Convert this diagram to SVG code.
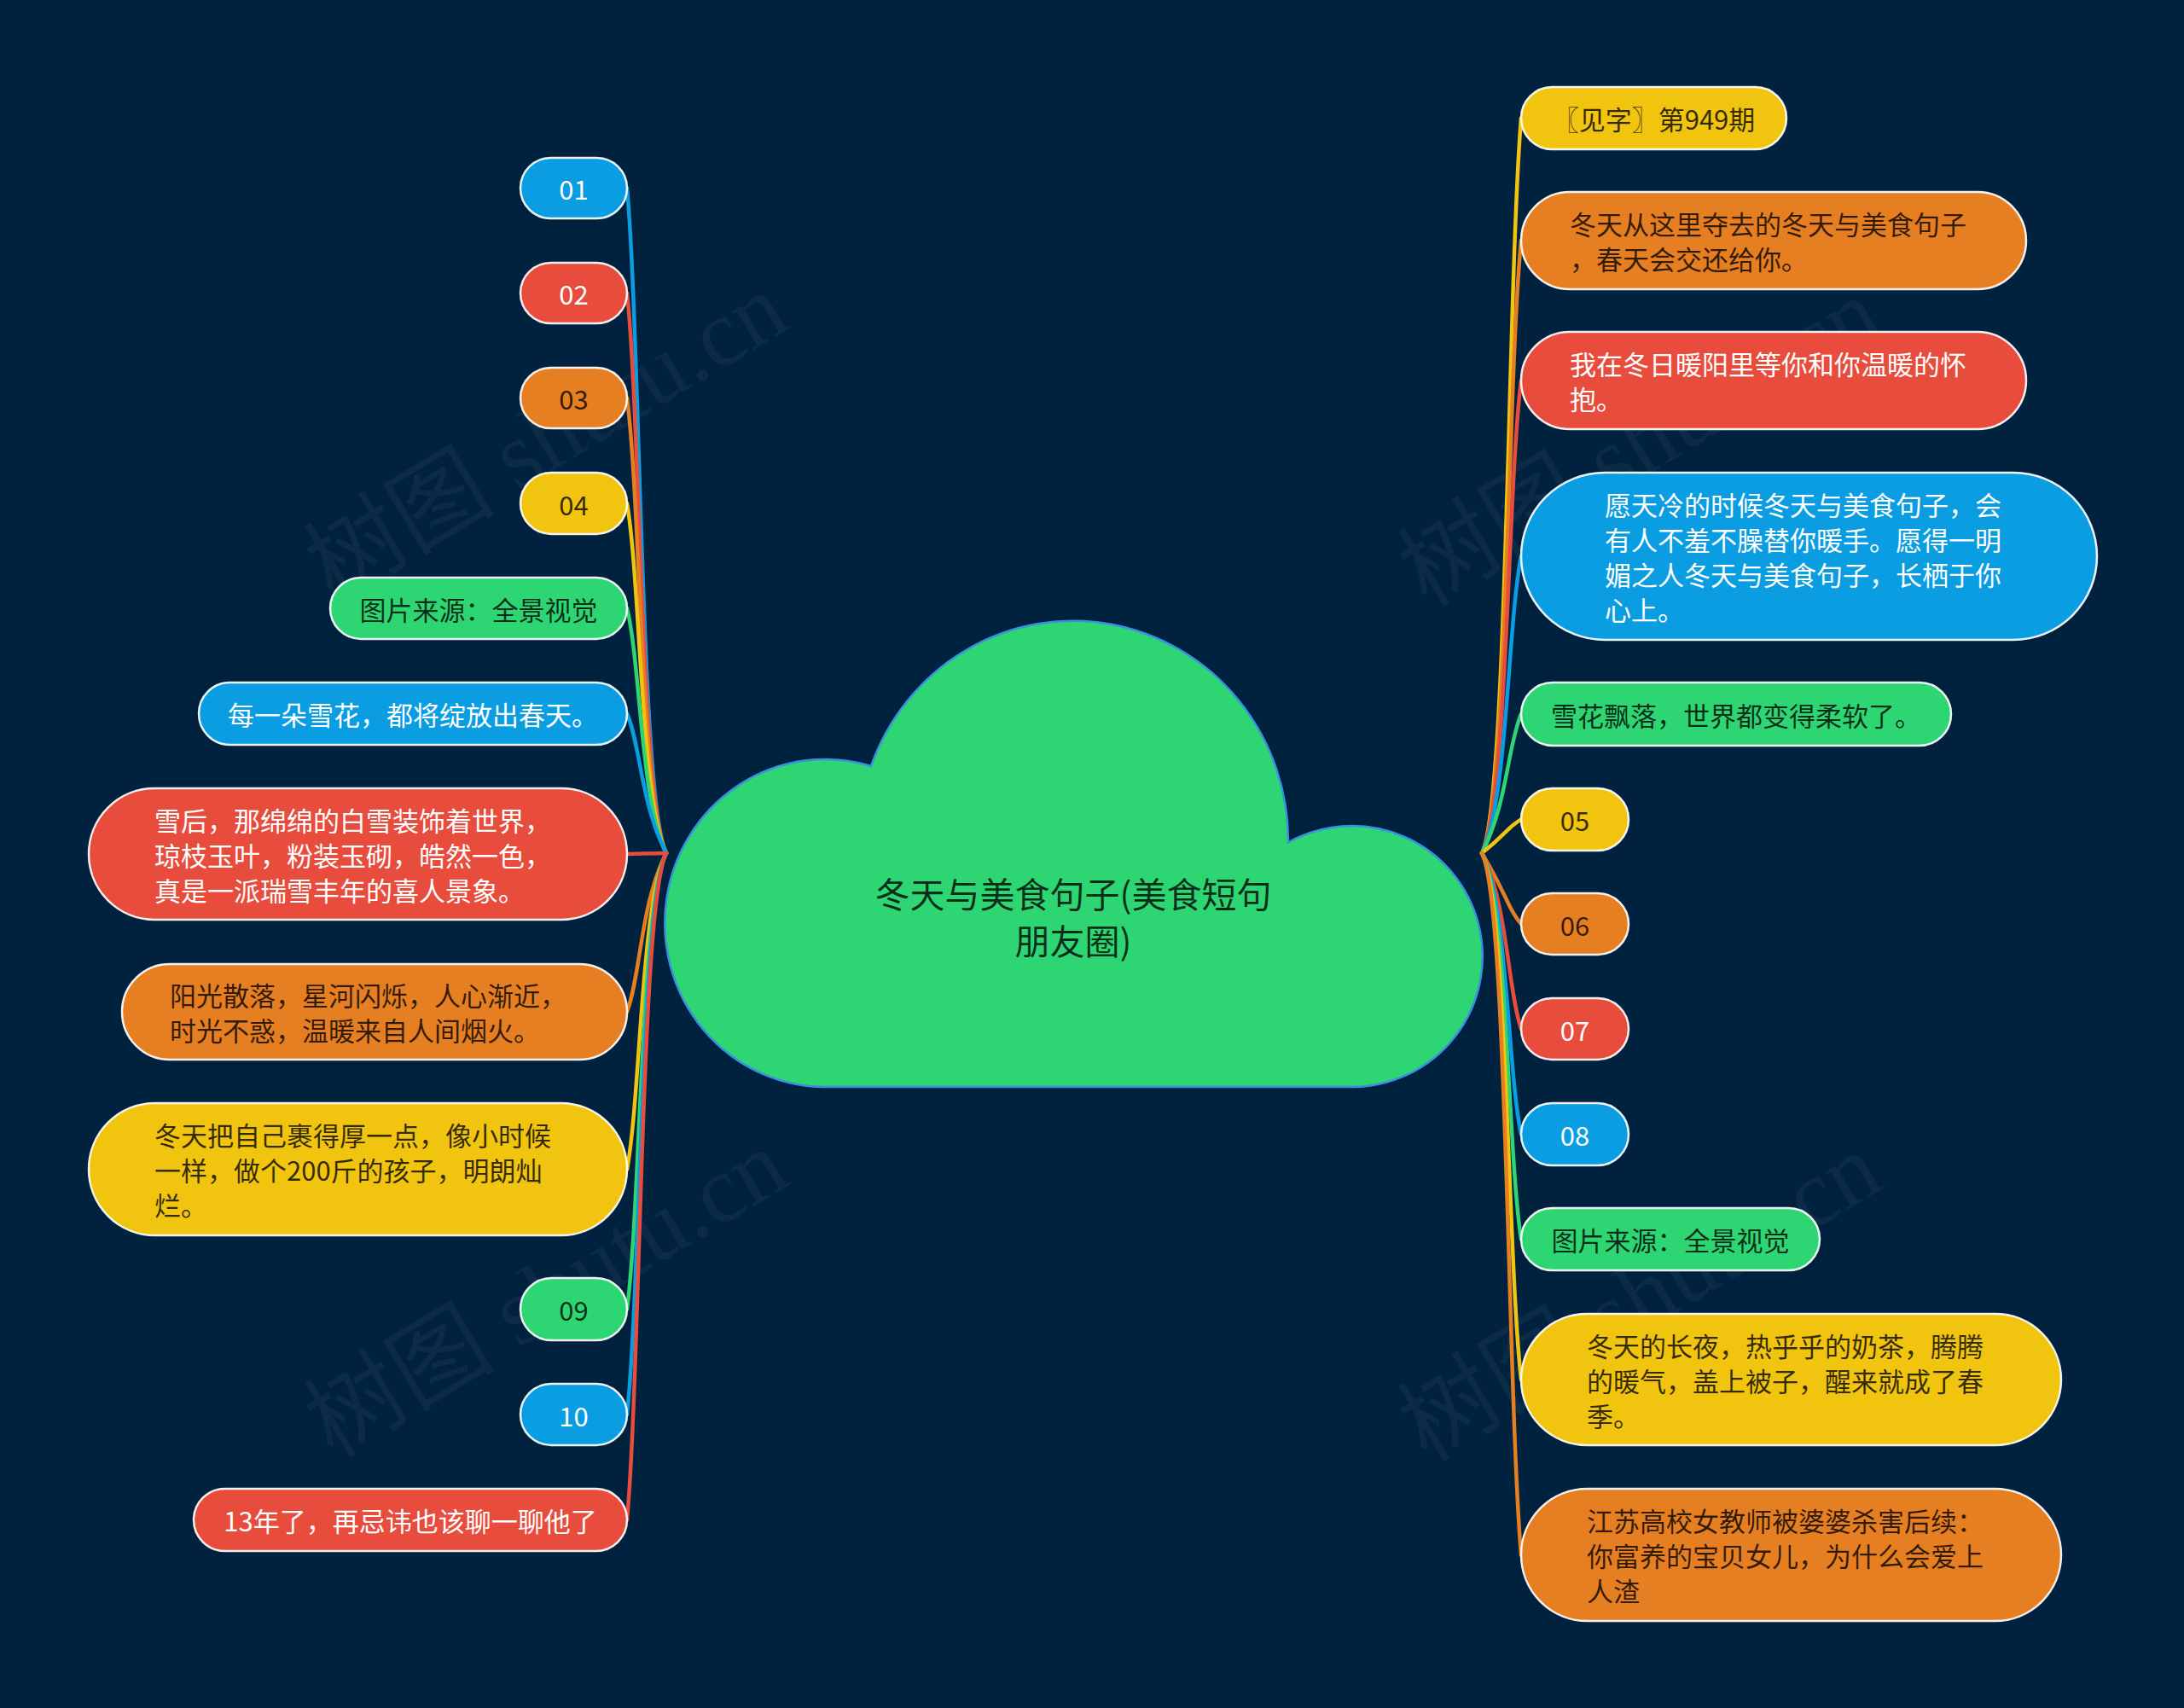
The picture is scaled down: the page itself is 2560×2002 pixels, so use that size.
<svg xmlns="http://www.w3.org/2000/svg" width="2560" height="2002" viewBox="0 0 2560 2002">
<style>
.n{stroke:#ffffff;stroke-width:2.5;stroke-opacity:0.92}
.t{font-family:"Noto Sans CJK SC","Microsoft YaHei",sans-serif;font-size:31px;dominant-baseline:central}
.c{text-anchor:middle}
.w{fill:#ffffff}
.d{fill:#000000;fill-opacity:0.78}
.blue{fill:#0a9de2}.red{fill:#e74c3c}.orange{fill:#e67e22}.yellow{fill:#f1c40f}.green{fill:#2ed573}
#links path{fill:none;stroke-width:4.5;stroke-linecap:round}
.sb{stroke:#0a9de2}.sr{stroke:#e74c3c}.so{stroke:#e67e22}.sy{stroke:#f1c40f}.sg{stroke:#2ed573}
.wm{font-family:"Liberation Serif","Noto Sans CJK SC",serif;font-size:112px;fill:#ffffff;fill-opacity:0.045;text-anchor:middle;dominant-baseline:central}
</style>
<rect width="2560" height="2002" fill="#01223e"/>

<g id="watermarks">
<text class="wm" transform="translate(640,512) rotate(-31)">树图 shutu.cn</text>
<text class="wm" transform="translate(1922,518) rotate(-31)">树图 shutu.cn</text>
<text class="wm" transform="translate(640,1516) rotate(-31)">树图 shutu.cn</text>
<text class="wm" transform="translate(1922,1520) rotate(-31)">树图 shutu.cn</text>
</g>

<g id="links">
<path class="sb" d="M781,1000 C751,942 751,400 735,220.5"/>
<path class="sr" d="M781,1000 C751,942 751,494.5 735,343.5"/>
<path class="so" d="M781,1000 C751,942 751,589 735,466.5"/>
<path class="sy" d="M781,1000 C751,942 751,684 735,590"/>
<path class="sg" d="M781,1000 C751,942 751,779 735,713"/>
<path class="sb" d="M781,1000 C751,942 751,874 735,836.5"/>
<path class="sr" d="M781,1000 L735,1001"/>
<path class="so" d="M781,1000 C751,1058 751,1143 735,1186"/>
<path class="sy" d="M781,1000 C751,1058 751,1285 735,1370.5"/>
<path class="sg" d="M781,1000 C751,1058 751,1412 735,1534.5"/>
<path class="sb" d="M781,1000 C751,1058 751,1507 735,1658"/>
<path class="sr" d="M781,1000 C751,1058 751,1602 735,1781.5"/>

<path class="sy" d="M1737,1000 C1767,942 1767,337 1783,138.5"/>
<path class="so" d="M1737,1000 C1767,942 1767,447 1783,282"/>
<path class="sr" d="M1737,1000 C1767,942 1767,573 1783,446"/>
<path class="sb" d="M1737,1000 C1767,942 1767,732 1783,652"/>
<path class="sg" d="M1737,1000 C1767,942 1767,874.5 1783,837"/>
<path class="sy" d="M1737,1000 C1767,976 1767,969.6 1783,960.5"/>
<path class="so" d="M1737,1000 C1767,1050 1767,1064 1783,1083"/>
<path class="sr" d="M1737,1000 C1767,1058 1767,1158.6 1783,1206"/>
<path class="sb" d="M1737,1000 C1767,1058 1767,1253.7 1783,1329.5"/>
<path class="sg" d="M1737,1000 C1767,1058 1767,1348.4 1783,1452.5"/>
<path class="sy" d="M1737,1000 C1767,1058 1767,1475 1783,1617"/>
<path class="so" d="M1737,1000 C1767,1058 1767,1633 1783,1822.5"/>
</g>

<g id="center">
<path d="M1021,898 A252,258 0 0 1 1510,987.5 A153,153 0 1 1 1585,1274 L967,1274 A188,192 0 1 1 1021,898 Z" fill="#2ed573" stroke="#3a8fe0" stroke-width="2.5"/>
<text class="t c d" x="1258" y="1046" style="font-size:41px">冬天与美食句子(美食短句</text>
<text class="t c d" x="1258" y="1101" style="font-size:41px">朋友圈)</text>
</g>

<g id="n-L1"><rect class="n blue" x="610" y="185" width="125" height="71" rx="35.5"/><text class="t c w" x="672.5" y="220.5">01</text></g>
<g id="n-L2"><rect class="n red" x="610" y="308" width="125" height="71" rx="35.5"/><text class="t c w" x="672.5" y="343.5">02</text></g>
<g id="n-L3"><rect class="n orange" x="610" y="431" width="125" height="71" rx="35.5"/><text class="t c d" x="672.5" y="466.5">03</text></g>
<g id="n-L4"><rect class="n yellow" x="610" y="554" width="125" height="72" rx="36"/><text class="t c d" x="672.5" y="590">04</text></g>
<g id="n-L5"><rect class="n green" x="387" y="677" width="348" height="72" rx="36"/><text class="t c d" x="561" y="713">图片来源：全景视觉</text></g>
<g id="n-L6"><rect class="n blue" x="233" y="800" width="502" height="73" rx="36.5"/><text class="t c w" x="484" y="836.5">每一朵雪花，都将绽放出春天。</text></g>
<g id="n-L7"><rect class="n red" x="104" y="924" width="631" height="154" rx="77"/>
<text class="t w" x="181" y="960">雪后，那绵绵的白雪装饰着世界，</text>
<text class="t w" x="181" y="1001">琼枝玉叶，粉装玉砌，皓然一色，</text>
<text class="t w" x="181" y="1042">真是一派瑞雪丰年的喜人景象。</text></g>
<g id="n-L8"><rect class="n orange" x="143" y="1130" width="592" height="112" rx="56"/>
<text class="t d" x="199" y="1165.5">阳光散落，星河闪烁，人心渐近，</text>
<text class="t d" x="199" y="1206.5">时光不惑，温暖来自人间烟火。</text></g>
<g id="n-L9"><rect class="n yellow" x="104" y="1293" width="631" height="155" rx="77.5"/>
<text class="t d" x="181" y="1329.5">冬天把自己裹得厚一点，像小时候</text>
<text class="t d" x="181" y="1370.5">一样，做个200斤的孩子，明朗灿</text>
<text class="t d" x="181" y="1411.5">烂。</text></g>
<g id="n-L10"><rect class="n green" x="610" y="1498" width="125" height="73" rx="36.5"/><text class="t c d" x="672.5" y="1534.5">09</text></g>
<g id="n-L11"><rect class="n blue" x="610" y="1622" width="125" height="72" rx="36"/><text class="t c w" x="672.5" y="1658">10</text></g>
<g id="n-L12"><rect class="n red" x="227" y="1745" width="508" height="73" rx="36.5"/><text class="t c w" x="481" y="1781.5">13年了，再忌讳也该聊一聊他了</text></g>

<g id="n-R1"><rect class="n yellow" x="1783" y="102" width="311" height="73" rx="36.5"/><text class="t c d" x="1938.5" y="138.5">〖见字〗第949期</text></g>
<g id="n-R2"><rect class="n orange" x="1783" y="225" width="592" height="114" rx="57"/>
<text class="t d" x="1840" y="261.5">冬天从这里夺去的冬天与美食句子</text>
<text class="t d" x="1840" y="302.5">，春天会交还给你。</text></g>
<g id="n-R3"><rect class="n red" x="1783" y="389" width="592" height="114" rx="57"/>
<text class="t w" x="1840" y="425.5">我在冬日暖阳里等你和你温暖的怀</text>
<text class="t w" x="1840" y="466.5">抱。</text></g>
<g id="n-R4"><rect class="n blue" x="1783" y="554" width="675" height="196" rx="98"/>
<text class="t w" x="1881" y="590.5">愿天冷的时候冬天与美食句子，会</text>
<text class="t w" x="1881" y="631.5">有人不羞不臊替你暖手。愿得一明</text>
<text class="t w" x="1881" y="672.5">媚之人冬天与美食句子，长栖于你</text>
<text class="t w" x="1881" y="713.5">心上。</text></g>
<g id="n-R5"><rect class="n green" x="1783" y="800" width="504" height="74" rx="37"/><text class="t c d" x="2035" y="837">雪花飘落，世界都变得柔软了。</text></g>
<g id="n-R6"><rect class="n yellow" x="1783" y="924" width="126" height="73" rx="36.5"/><text class="t c d" x="1846" y="960.5">05</text></g>
<g id="n-R7"><rect class="n orange" x="1783" y="1047" width="126" height="72" rx="36"/><text class="t c d" x="1846" y="1083">06</text></g>
<g id="n-R8"><rect class="n red" x="1783" y="1170" width="126" height="72" rx="36"/><text class="t c w" x="1846" y="1206">07</text></g>
<g id="n-R9"><rect class="n blue" x="1783" y="1293" width="126" height="73" rx="36.5"/><text class="t c w" x="1846" y="1329.5">08</text></g>
<g id="n-R10"><rect class="n green" x="1783" y="1416" width="350" height="73" rx="36.5"/><text class="t c d" x="1958" y="1452.5">图片来源：全景视觉</text></g>
<g id="n-R11"><rect class="n yellow" x="1783" y="1540" width="633" height="154" rx="77"/>
<text class="t d" x="1860" y="1576">冬天的长夜，热乎乎的奶茶，腾腾</text>
<text class="t d" x="1860" y="1617">的暖气，盖上被子，醒来就成了春</text>
<text class="t d" x="1860" y="1658">季。</text></g>
<g id="n-R12"><rect class="n orange" x="1783" y="1745" width="633" height="155" rx="77.5"/>
<text class="t d" x="1860" y="1781.5">江苏高校女教师被婆婆杀害后续：</text>
<text class="t d" x="1860" y="1822.5">你富养的宝贝女儿，为什么会爱上</text>
<text class="t d" x="1860" y="1863.5">人渣</text></g>
</svg>
